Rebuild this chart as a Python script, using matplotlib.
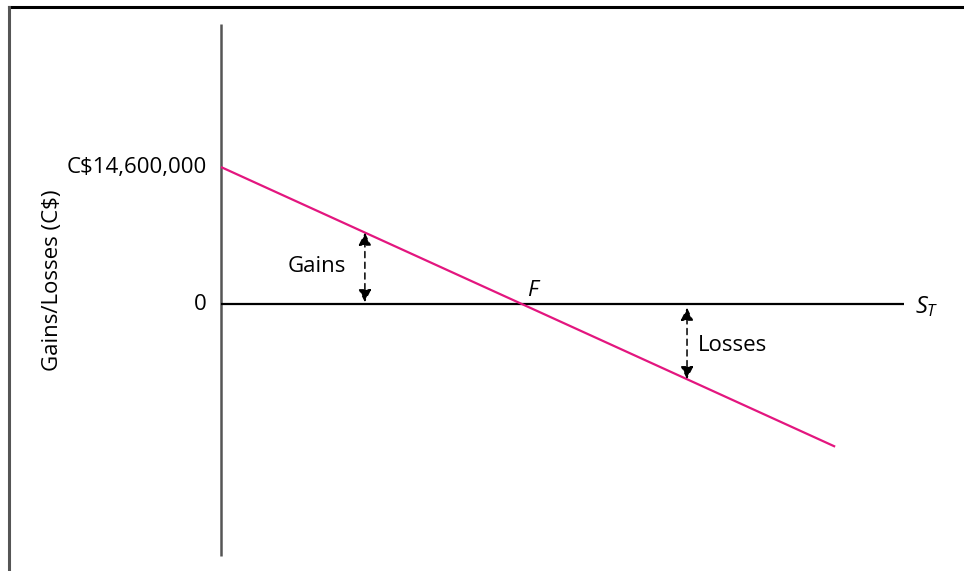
import numpy as np
import matplotlib
matplotlib.use("Agg")
import matplotlib.pyplot as plt
from matplotlib.lines import Line2D

plt.rcParams['font.family'] = ['Open Sans', 'DejaVu Sans']
plt.rcParams['mathtext.fontset'] = 'custom'
plt.rcParams['mathtext.it'] = 'Open Sans:italic'
plt.rcParams['mathtext.rm'] = 'Open Sans'

# spot price at maturity, in units of the forward rate F
spot = [0.0, 2.04]
# gain/loss of the short forward position, millions of C$
payoff = [14.6, -15.2]

axis_top = 29.8
axis_bottom = -26.8
axis_right = 2.27

gains_at = 0.478
gains_val = 7.6
losses_at = 1.548
losses_val = -8.0

magenta = '#e3167f'

fig = plt.figure(figsize=(9.64, 5.71), dpi=100)
ax = fig.add_axes([0, 0, 1, 1])
ax.set_xlim(-0.734, 2.468)
ax.set_ylim(-28.45, 32.4)
ax.axis('off')

# frame (only top and left edges show)
fig.add_artist(Line2D([9 / 964, 1], [1 - 7 / 571, 1 - 7 / 571], color='black', lw=2.2))
fig.add_artist(Line2D([9 / 964, 9 / 964], [0, 1 - 7 / 571], color='#555555', lw=2.2))

# axes
ax.plot([0, 0], [axis_bottom, axis_top], color='#555555', lw=1.8, solid_capstyle='butt')
ax.plot([0, axis_right], [0, 0], color='black', lw=1.6, solid_capstyle='butt')

# payoff line
ax.plot(spot, payoff, color=magenta, lw=1.6, solid_capstyle='butt')

# gains / losses arrows
arrow = dict(arrowstyle='<|-|>', color='black', lw=1.1, ls=(0, (4, 3)),
             mutation_scale=19, shrinkA=0, shrinkB=0)
ax.annotate('', xy=(gains_at, gains_val), xytext=(gains_at, 0.2), arrowprops=arrow)
ax.annotate('', xy=(losses_at, -0.4), xytext=(losses_at, losses_val), arrowprops=arrow)

fs = 16
ax.text(0.319, 4.05, 'Gains', fontsize=fs, ha='center', va='center')
ax.text(1.585, -4.37, 'Losses', fontsize=fs, ha='left', va='center')

ax.text(-0.047, payoff[0], 'C$14,600,000', fontsize=fs, ha='right', va='center')
ax.text(-0.047, 0, '0', fontsize=fs, ha='right', va='center')
ax.text(-0.561, 2.56, 'Gains/Losses (C$)', fontsize=fs, rotation=90,
        ha='center', va='center')

ax.text(1.033, 1.45, 'F', fontsize=fs, style='italic', ha='center', va='center')
ax.text(2.306, -0.3, r'$S_T$', fontsize=fs + 1, ha='left', va='center')

fig.savefig('out.png', dpi=100)
